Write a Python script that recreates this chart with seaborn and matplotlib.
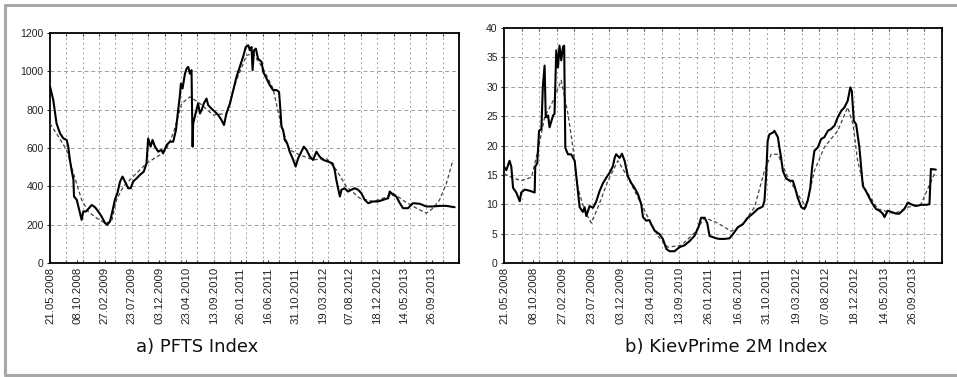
import numpy as np
import pandas as pd
import matplotlib
matplotlib.use("Agg")
import matplotlib.pyplot as plt
from matplotlib.ticker import MultipleLocator, FixedLocator
from matplotlib.lines import Line2D
import seaborn as sns

# ---------------- data (x = trading-day case number) ----------------
date_labels = ["21.05.2008", "08.10.2008", "27.02.2009", "23.07.2009", "03.12.2009",
               "23.04.2010", "13.09.2010", "26.01.2011", "16.06.2011", "31.10.2011",
               "19.03.2012", "07.08.2012", "18.12.2012", "14.05.2013", "26.09.2013"]
label_cases = [0, 100, 200, 300, 400, 500, 600, 700, 800, 900, 1000, 1100, 1200, 1300, 1400]

pfts_case = [0, 12, 24, 37, 49, 61, 67, 73, 79, 86, 88, 98, 110, 116, 122, 132, 140, 153, 165,
             177, 189, 202, 210, 220, 230, 238, 247, 257, 266, 275, 287, 296, 305, 318, 330,
             344, 354, 360, 369, 376, 385, 397, 409, 415, 428, 440, 452, 462, 470, 476, 480,
             486, 495, 501, 507, 513, 519, 523, 525, 531, 537, 543, 550, 556, 564, 574, 580,
             592, 605, 617, 629, 638, 647, 660, 672, 684, 696, 708, 718, 727, 733, 739, 743,
             748, 755, 763, 776, 782, 794, 806, 818, 831, 840, 845, 849, 855, 861, 870, 879,
             892, 901, 910, 922, 931, 941, 953, 965, 977, 989, 1002, 1020, 1036, 1044, 1050,
             1063, 1069, 1081, 1093, 1105, 1118, 1130, 1142, 1154, 1167, 1185, 1203, 1222,
             1240, 1246, 1258, 1270, 1283, 1295, 1313, 1331, 1356, 1380, 1405, 1429, 1454, 1484]
pfts_val = [922, 850, 728, 676, 650, 642, 607, 538, 486, 434, 347, 330, 260, 225, 269, 269, 281,
            303, 291, 269, 243, 208, 199, 217, 277, 330, 364, 425, 451, 425, 390, 390, 425, 442,
            460, 477, 520, 650, 607, 642, 607, 581, 590, 572, 616, 633, 633, 694, 798, 867, 936,
            910, 988, 1014, 1023, 988, 1006, 607, 728, 763, 798, 832, 780, 798, 832, 858, 824,
            806, 789, 772, 746, 720, 780, 832, 902, 971, 1023, 1075, 1127, 1136, 1110, 1127,
            1006, 1110, 1118, 1066, 1049, 997, 962, 928, 902, 902, 893, 798, 711, 694, 642, 624,
            581, 538, 503, 546, 581, 607, 590, 555, 538, 581, 555, 538, 529, 520, 486, 434, 347,
            382, 390, 373, 382, 390, 382, 364, 330, 312, 321, 321, 330, 338, 373, 356, 347, 312,
            286, 286, 312, 309, 295, 295, 298, 298, 291]

pfts_trend_case = [0, 31, 61, 86, 116, 140, 171, 202, 226, 244, 269, 305, 354, 403, 428, 452,
                   483, 513, 550, 599, 647, 684, 721, 745, 782, 818, 849, 879, 916, 965, 1014,
                   1050, 1087, 1136, 1185, 1222, 1258, 1301, 1344, 1380, 1405, 1429, 1454, 1478]
pfts_trend_val = [728, 659, 590, 468, 330, 269, 234, 208, 217, 330, 399, 451, 520, 564, 598,
                  676, 832, 867, 832, 772, 780, 954, 1084, 1092, 1014, 910, 711, 590, 564, 538,
                  546, 486, 399, 338, 321, 338, 364, 321, 286, 260, 286, 330, 416, 538]

kiev_case = [0, 8, 14, 19, 25, 31, 42, 54, 59, 71, 88, 105, 107, 114, 120, 128, 133, 139, 143,
             151, 156, 168, 173, 179, 185, 190, 196, 202, 206, 210, 219, 230, 242, 248, 259,
             270, 276, 282, 293, 305, 316, 327, 339, 350, 362, 373, 379, 384, 396, 404, 413,
             424, 436, 447, 459, 470, 476, 487, 498, 504, 516, 533, 544, 556, 567, 584, 601,
             618, 635, 652, 666, 675, 687, 696, 704, 715, 727, 738, 755, 772, 784, 801, 818,
             835, 852, 869, 886, 892, 898, 903, 909, 921, 926, 938, 943, 949, 955, 966, 978,
             989, 995, 1006, 1018, 1029, 1040, 1049, 1055, 1063, 1075, 1086, 1097, 1109, 1120,
             1132, 1143, 1155, 1166, 1177, 1186, 1191, 1198, 1206, 1217, 1223, 1229, 1240,
             1251, 1263, 1274, 1286, 1297, 1303, 1314, 1326, 1343, 1354, 1371, 1383, 1394,
             1411, 1428, 1445, 1457, 1462, 1479]
kiev_val = [16.4, 15.8, 16.7, 17.4, 16.4, 12.8, 12.0, 10.5, 12.0, 12.5, 12.3, 12.0, 16.4, 17.0,
            22.5, 22.8, 30.0, 33.6, 24.8, 25.1, 23.1, 25.1, 25.4, 36.2, 33.3, 37.0, 34.5, 36.8,
            37.0, 19.6, 18.5, 18.5, 17.4, 14.6, 9.5, 8.7, 9.5, 8.0, 9.7, 9.4, 10.5, 12.2, 13.6,
            14.5, 15.4, 16.5, 17.9, 18.5, 17.9, 18.6, 17.4, 14.8, 13.6, 12.8, 11.7, 10.0, 7.8,
            7.2, 7.3, 6.6, 5.5, 4.9, 4.1, 2.4, 2.0, 2.0, 2.7, 3.0, 3.7, 4.6, 6.1, 7.7, 7.7, 6.8,
            4.6, 4.4, 4.2, 4.1, 4.1, 4.2, 4.9, 6.1, 6.6, 7.7, 8.4, 9.2, 9.6, 10.6, 15.1, 20.8,
            21.9, 22.2, 22.5, 21.4, 19.7, 17.9, 15.7, 14.4, 14.0, 14.0, 13.1, 11.1, 9.5, 9.2,
            10.6, 12.8, 16.2, 19.1, 19.7, 21.1, 21.4, 22.5, 22.8, 23.4, 24.8, 25.9, 26.5, 27.6,
            29.9, 29.3, 24.2, 23.6, 19.7, 16.3, 13.1, 12.2, 11.1, 10.0, 9.2, 8.9, 8.4, 7.8, 8.9,
            8.7, 8.4, 8.4, 9.2, 10.3, 10.0, 9.7, 9.9, 9.9, 10.0, 16.0, 15.9]

kiev_trend_case = [0, 25, 59, 94, 116, 139, 168, 196, 219, 236, 253, 276, 299, 322, 356, 390,
                   424, 459, 493, 527, 561, 607, 652, 687, 732, 778, 812, 858, 892, 915, 938,
                   972, 1006, 1035, 1063, 1097, 1143, 1177, 1195, 1211, 1234, 1280, 1337, 1383,
                   1428, 1474]
kiev_trend_val = [15.2, 14.6, 14.0, 14.6, 19.1, 24.8, 27.6, 31.1, 25.4, 19.7, 12.8, 8.9, 6.8,
                  9.5, 14.0, 17.4, 14.6, 11.1, 7.8, 4.6, 2.7, 3.0, 5.1, 7.7, 6.8, 5.4, 6.3, 9.5,
                  15.7, 18.5, 18.5, 14.6, 11.7, 9.5, 15.7, 19.7, 22.5, 26.5, 23.7, 17.4, 12.8,
                  9.2, 8.4, 9.5, 10.0, 15.2]

# ---------------- style ----------------
sns.set_theme(style="white")
plt.rcParams["font.family"] = ["Liberation Sans", "DejaVu Sans"]

W, H = 957, 377
fig = plt.figure(figsize=(W / 100, H / 100), dpi=100)
fig.patch.set_facecolor("white")


def px_axes(x0, y0, x1, y1):
    return fig.add_axes([x0 / W, 1 - y1 / H, (x1 - x0) / W, (y1 - y0) / H])


def draw_panel(ax, case, val, tcase, tval, ymax, ystep):
    sns.lineplot(x=tcase, y=tval, ax=ax, color="#444444", linewidth=0.9,
                 linestyle=(0, (3.0, 2.0)), estimator=None, zorder=3)
    sns.lineplot(x=case, y=val, ax=ax, color="black", linewidth=1.5,
                 estimator=None, zorder=4)
    ax.set_xlim(0, 1500)
    ax.set_ylim(0, ymax)
    ax.set_xlabel("")
    ax.set_ylabel("")
    ax.xaxis.set_major_locator(FixedLocator(label_cases))
    ax.set_xticklabels(date_labels, rotation=90, fontsize=8.2, color="#222222")
    ax.xaxis.set_minor_locator(MultipleLocator(60))
    ax.yaxis.set_major_locator(MultipleLocator(ystep))
    ax.tick_params(axis="y", labelsize=7.5, labelcolor="#222222", direction="out",
                   length=2.5, width=0.8, pad=2, left=True)
    ax.tick_params(axis="x", which="major", direction="in", length=2.5, width=0.8,
                   bottom=True, pad=3)
    ax.tick_params(axis="x", which="minor", direction="in", length=2.5, width=0.8,
                   top=True, bottom=True)
    ax.grid(False)
    for xv in np.arange(60, 1500, 60):
        ax.axvline(xv, color="#a0a0a0", linewidth=0.7, linestyle=(0, (2, 3)), zorder=1)
    for yv in np.arange(ystep, ymax, ystep):
        ax.axhline(yv, color="#a0a0a0", linewidth=0.7, linestyle=(0, (4, 3)), zorder=1)
    for s in ax.spines.values():
        s.set_color("black")
        s.set_linewidth(1.3)
        s.set_visible(True)
    ax.set_facecolor("white")


ax1 = px_axes(50, 33, 459, 263)
draw_panel(ax1, pfts_case, pfts_val, pfts_trend_case, pfts_trend_val, 1200, 200)

ax2 = px_axes(504, 28, 942, 263)
draw_panel(ax2, kiev_case, kiev_val, kiev_trend_case, kiev_trend_val, 40, 5)

# captions
fig.text(197 / W, 1 - 347 / H, "a) PFTS Index", ha="center", va="center",
         fontsize=13, family=["DejaVu Sans"], color="#111111")
fig.text(726 / W, 1 - 347 / H, "b) KievPrime 2M Index", ha="center", va="center",
         fontsize=13, family=["DejaVu Sans"], color="#111111")

# outer frame (top, left, bottom)
frame_kw = dict(color="#a8a8a8", linewidth=2.2, transform=fig.transFigure)
fig.add_artist(Line2D([5 / W, 1], [1 - 5 / H, 1 - 5 / H], **frame_kw))
fig.add_artist(Line2D([5 / W, 5 / W], [1 - 5 / H, 1 - 375 / H], **frame_kw))
fig.add_artist(Line2D([5 / W, 1], [1 - 375 / H, 1 - 375 / H], **frame_kw))

fig.savefig("out.png", dpi=100)
